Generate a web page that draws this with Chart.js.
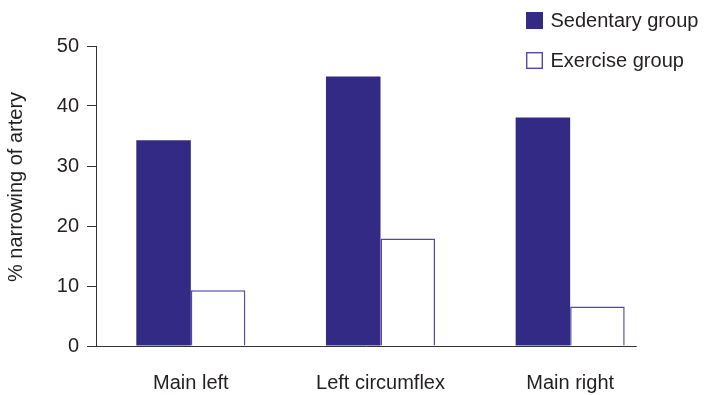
<!DOCTYPE html>
<html>
<head>
<meta charset="utf-8">
<script src="https://cdn.jsdelivr.net/npm/chart.js@4.4.1/dist/chart.umd.min.js"></script>
<style>
  html, body { margin: 0; padding: 0; background: #fff; }
</style>
</head>
<body>
<canvas id="arteryChart" width="708" height="395"></canvas>
<script>
const categories = ['Main left', 'Left circumflex', 'Main right'];
const sedentaryValues = [34.3, 44.9, 38.1];
const exerciseValues = [9.3, 17.9, 6.6];
const yTicks = [0, 10, 20, 30, 40, 50];
const yTitle = '% narrowing of artery';

const FONT = "'Liberation Sans', Arial, sans-serif";
const TEXT = '#231f20';
const NAVY = '#332a85';
const OUTLINE = '#5148ab';

// legend on the top right, stacked vertically
const boxLegend = {
  id: 'boxLegend',
  afterDraw(chart) {
    const ctx = chart.ctx;
    const x = chart.width - 182;
    const rows = [12, 52];
    ctx.save();
    ctx.font = '20px ' + FONT;
    ctx.textBaseline = 'middle';
    chart.data.datasets.forEach((ds, i) => {
      const y = rows[i];
      ctx.fillStyle = ds.backgroundColor;
      ctx.fillRect(x, y, 17, 17);
      if (ds.borderWidth) {
        ctx.strokeStyle = ds.borderColor;
        ctx.lineWidth = 1.4;
        ctx.strokeRect(x + 0.7, y + 0.7, 15.6, 15.6);
      }
      ctx.fillStyle = TEXT;
      ctx.fillText(ds.label, x + 24.5, y + 9);
    });
    ctx.restore();
  }
};

// rotated y title, sitting a bit above the middle of the plot
const sideTitle = {
  id: 'sideTitle',
  afterDraw(chart) {
    const area = chart.chartArea;
    const ctx = chart.ctx;
    ctx.save();
    ctx.translate(16, (area.top + area.bottom) / 2 - 9);
    ctx.rotate(-Math.PI / 2);
    ctx.font = '20px ' + FONT;
    ctx.fillStyle = TEXT;
    ctx.textAlign = 'center';
    ctx.textBaseline = 'middle';
    ctx.fillText(yTitle, 0, 0);
    ctx.restore();
  }
};

// x axis baseline stops a little past the last bar
const baseLine = {
  id: 'baseLine',
  afterDatasetsDraw(chart) {
    const area = chart.chartArea;
    const meta = chart.getDatasetMeta(chart.data.datasets.length - 1);
    const last = meta.data[meta.data.length - 1];
    const end = last.x + last.width / 2 + 12;
    const ctx = chart.ctx;
    ctx.save();
    ctx.strokeStyle = '#333';
    ctx.lineWidth = 1;
    ctx.beginPath();
    ctx.moveTo(area.left, Math.round(area.bottom) + 0.5);
    ctx.lineTo(end, Math.round(area.bottom) + 0.5);
    ctx.stroke();
    ctx.restore();
  }
};

new Chart(document.getElementById('arteryChart'), {
  type: 'bar',
  data: {
    labels: categories,
    datasets: [{
      label: 'Sedentary group',
      data: sedentaryValues,
      backgroundColor: NAVY,
      borderWidth: 0,
      barPercentage: 1,
      categoryPercentage: 0.575
    }, {
      label: 'Exercise group',
      data: exerciseValues,
      backgroundColor: '#ffffff',
      borderColor: OUTLINE,
      borderWidth: 1.5,
      barPercentage: 1,
      categoryPercentage: 0.575
    }]
  },
  options: {
    responsive: false,
    animation: false,
    layout: { padding: { top: 46, right: 43, left: 0, bottom: 0 } },
    plugins: { legend: { display: false }, tooltip: { enabled: false } },
    scales: {
      x: {
        grid: { display: false, drawTicks: false },
        border: { display: false },
        ticks: { color: TEXT, font: { family: FONT, size: 20 }, padding: 25 },
        afterFit(scale) { scale.height = 49; }
      },
      y: {
        min: 0,
        max: 50,
        afterBuildTicks(scale) { scale.ticks = yTicks.map(v => ({ value: v })); },
        grid: { drawOnChartArea: false, tickLength: 9, color: '#333' },
        border: { color: '#333' },
        ticks: { color: TEXT, font: { family: FONT, size: 20 }, padding: 8 },
        afterFit(scale) { scale.width = 96; }
      }
    }
  },
  plugins: [boxLegend, sideTitle, baseLine]
});
</script>
</body>
</html>
